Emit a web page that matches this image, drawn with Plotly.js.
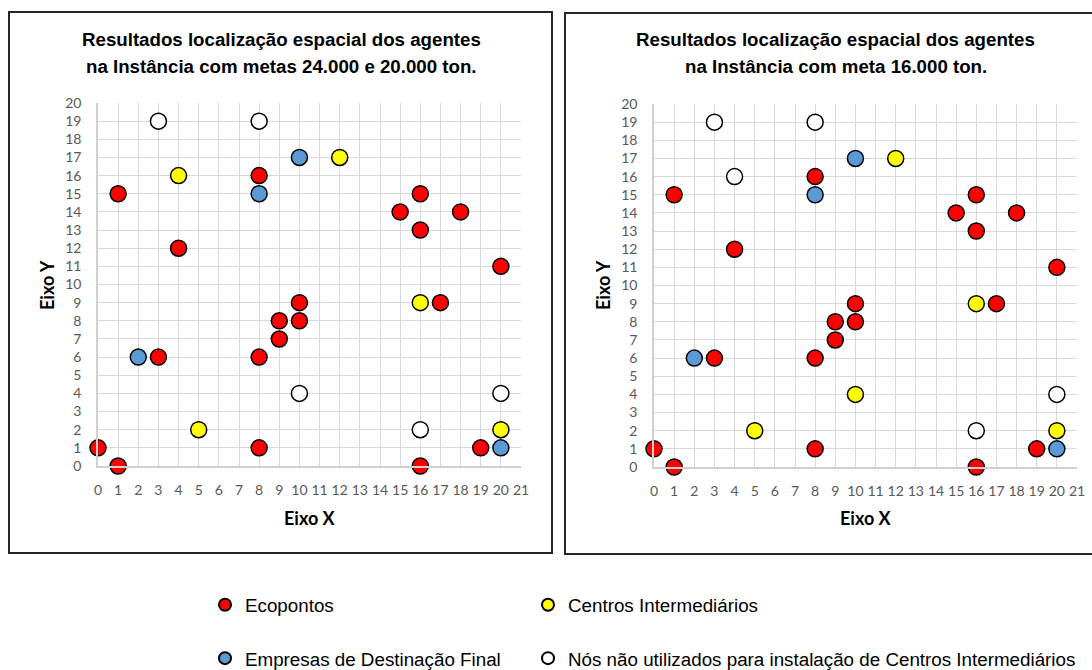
<!DOCTYPE html>
<html>
<head>
<meta charset="utf-8">
<script src="https://cdn.plot.ly/plotly-3.0.1.min.js"></script>
<style>body{margin:0;padding:0;background:#fff;}#chart{width:1092px;height:670px;}</style>
</head>
<body>
<div id="chart"></div>
<script>
// ---- Data ----
const seriesNames = ["Ecopontos", "Empresas de Destinação Final", "Centros Intermediários", "Nós não utilizados para instalação de Centros Intermediários"];
const seriesColors = ["#ff0000", "#5b9bd5", "#ffff00", "#ffffff"];

// Ecopontos (same in both instances)
const ecoX = [1, 8, 4, 16, 15, 18, 16, 20, 10, 17, 9, 10, 9, 3, 8, 0, 1, 8, 19, 16];
const ecoY = [15, 16, 12, 15, 14, 14, 13, 11, 9, 9, 8, 8, 7, 6, 6, 1, 0, 1, 1, 0];
// Empresas de Destinação Final (same in both)
const empX = [10, 8, 2, 20];
const empY = [17, 15, 6, 1];
// Instance 1 (metas 24.000 e 20.000 ton.)
const cen1X = [12, 4, 16, 5, 20];
const cen1Y = [17, 16, 9, 2, 2];
const nos1X = [3, 8, 10, 20, 16];
const nos1Y = [19, 19, 4, 4, 2];
// Instance 2 (meta 16.000 ton.)
const cen2X = [12, 16, 10, 5, 20];
const cen2Y = [17, 9, 4, 2, 2];
const nos2X = [3, 8, 4, 20, 16];
const nos2Y = [19, 19, 16, 4, 2];

const tickVals = [...Array(22).keys()];
const yTickVals = [...Array(21).keys()];

const titleLeft = ["Resultados localização espacial dos agentes", "na Instância com metas 24.000 e 20.000 ton."];
const titleRight = ["Resultados localização espacial dos agentes", "na Instância com meta 16.000 ton."];

// ---- Helpers ----
const W = 1092, H = 670;
const px = v => v / W;
const py = v => 1 - v / H;

function mk(x, y, idx, xa, ya, showleg) {
  return {
    type: "scatter", mode: "markers", x: x, y: y,
    xaxis: xa, yaxis: ya,
    name: seriesNames[idx],
    legendgroup: "g" + idx,
    legend: (idx === 0 || idx === 1) ? "legend" : "legend2",
    showlegend: showleg,
    cliponaxis: false,
    marker: { size: 16, color: seriesColors[idx], line: { color: "#000000", width: 1.5 } },
    hoverinfo: "x+y+name"
  };
}

const data = [
  mk(ecoX, ecoY, 0, "x", "y", true),
  mk(empX, empY, 1, "x", "y", true),
  mk(cen1X, cen1Y, 2, "x", "y", true),
  mk(nos1X, nos1Y, 3, "x", "y", true),
  mk(ecoX, ecoY, 0, "x2", "y2", false),
  mk(empX, empY, 1, "x2", "y2", false),
  mk(cen2X, cen2Y, 2, "x2", "y2", false),
  mk(nos2X, nos2Y, 3, "x2", "y2", false)
];

const tickFont = { family: "Lato, 'Open Sans', sans-serif", size: 14, color: "#595959" };
function xAx(domain, anchor) {
  return {
    domain: domain, anchor: anchor, range: [0, 21], tickvals: tickVals, ticktext: tickVals.map(String),
    showgrid: true, gridcolor: "#d9d9d9", gridwidth: 1,
    zeroline: false, showline: true, linecolor: "#d0d0d0", linewidth: 1.5, mirror: false,
    ticks: "", tickfont: tickFont, ticklabelstandoff: 10, fixedrange: true
  };
}
function yAx(domain, anchor) {
  return {
    domain: domain, anchor: anchor, range: [0, 20], tickvals: yTickVals, ticktext: yTickVals.map(String),
    showgrid: true, gridcolor: "#d9d9d9", gridwidth: 1,
    zeroline: false, showline: true, linecolor: "#d0d0d0", linewidth: 1.5, mirror: false,
    ticks: "", tickfont: tickFont, ticklabelstandoff: 12, fixedrange: true
  };
}

const titleFont = { family: "'Liberation Sans', Arial, sans-serif", size: 18.7, color: "#000000" };
const axTitleFont = { family: "Lato, 'Open Sans', sans-serif", size: 18, color: "#000000" };

function ann(text, x, y, font, extra) {
  return Object.assign({ text: text, x: px(x), y: py(y), xref: "paper", yref: "paper",
    showarrow: false, xanchor: "center", yanchor: "middle", font: font }, extra || {});
}

const annotations = [
  ann("<b>" + titleLeft[0] + "</b>", 281, 40, titleFont),
  ann("<b>" + titleLeft[1] + "</b>", 281, 67, titleFont),
  ann("<b>" + titleRight[0] + "</b>", 836, 40, titleFont),
  ann("<b>" + titleRight[1] + "</b>", 836, 67, titleFont),
  ann("<b>Eixo X</b>", 310, 518, axTitleFont),
  ann("<b>Eixo X</b>", 866, 518, axTitleFont),
  ann("<b>Eixo Y</b>", 47, 285, axTitleFont, { textangle: -90 }),
  ann("<b>Eixo Y</b>", 603, 285, axTitleFont, { textangle: -90 })
];

const shapes = [
  { type: "rect", xref: "paper", yref: "paper", x0: px(9), x1: px(552), y0: py(12), y1: py(553),
    line: { color: "#262626", width: 2 }, fillcolor: "rgba(0,0,0,0)", layer: "below" },
  { type: "rect", xref: "paper", yref: "paper", x0: px(565), x1: px(1100), y0: py(13), y1: py(554),
    line: { color: "#262626", width: 2 }, fillcolor: "rgba(0,0,0,0)", layer: "below" }
];

const legFont = { family: "'Liberation Sans', Arial, sans-serif", size: 18.8, color: "#000000" };
const layout = {
  width: W, height: H,
  margin: { l: 0, r: 0, t: 0, b: 0, autoexpand: false },
  paper_bgcolor: "#ffffff", plot_bgcolor: "#ffffff",
  xaxis: xAx([px(98), px(521)], "y"),
  yaxis: yAx([py(466), py(103)], "x"),
  xaxis2: xAx([px(654), px(1077)], "y2"),
  yaxis2: yAx([py(467), py(104)], "x2"),
  showlegend: true,
  legend: { x: px(205), y: py(586), xanchor: "left", yanchor: "top", orientation: "v",
    font: legFont, itemsizing: "constant", tracegroupgap: 26, bgcolor: "rgba(0,0,0,0)" },
  legend2: { x: px(528), y: py(586), xanchor: "left", yanchor: "top", orientation: "v",
    font: legFont, itemsizing: "constant", tracegroupgap: 26, bgcolor: "rgba(0,0,0,0)" },
  annotations: annotations,
  shapes: shapes,
  hovermode: "closest"
};

Plotly.newPlot("chart", data, layout, { displayModeBar: false, staticPlot: false });
</script>
</body>
</html>
